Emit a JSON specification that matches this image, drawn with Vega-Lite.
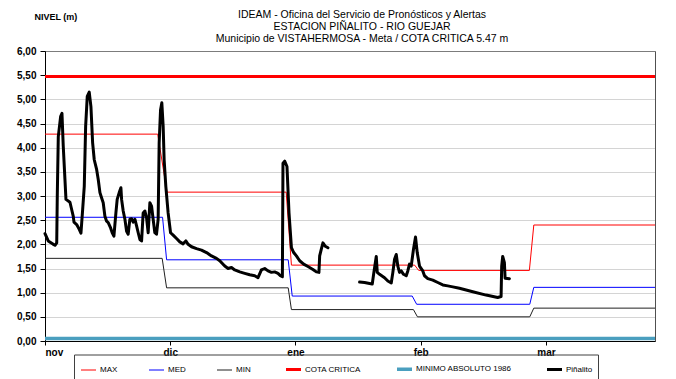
{
  "$schema": "https://vega.github.io/schema/vega-lite/v6.json",
  "width": 610,
  "height": 290,
  "autosize": {"type": "none"},
  "padding": {"left": 45, "top": 51, "right": 21, "bottom": 38},
  "background": "white",
  "title": {
    "text": ["IDEAM - Oficina del Servicio de Pronósticos y Alertas", "ESTACION PIÑALITO - RIO GUEJAR"],
    "subtitle": "Municipio de VISTAHERMOSA - Meta / COTA CRITICA 5.47 m",
    "anchor": "middle",
    "frame": "group",
    "dx": 12,
    "offset": -32,
    "font": "Liberation Sans",
    "fontSize": 10.5,
    "fontWeight": "normal",
    "lineHeight": 12.5,
    "color": "black",
    "subtitleFont": "Liberation Sans",
    "subtitleFontSize": 10.5,
    "subtitleColor": "black",
    "subtitlePadding": 1,
    "subtitleLineHeight": 12.5
  },
  "config": {
    "view": {"stroke": "#505050", "strokeWidth": 1},
    "axis": {"labelFont": "Liberation Sans", "titleFont": "Liberation Sans", "labelColor": "black", "titleColor": "black", "tickColor": "black", "domainColor": "black"},
    "legend": {"labelFont": "Liberation Sans", "labelFontSize": 8, "labelColor": "black"}
  },
  "datasets": {
    "niveles": [
      {"series": "MAX", "seg": 1, "day": 0, "nivel": 4.28},
      {"series": "MAX", "seg": 1, "day": 27.9, "nivel": 4.28},
      {"series": "MAX", "seg": 1, "day": 30.2, "nivel": 3.08},
      {"series": "MAX", "seg": 1, "day": 59.7, "nivel": 3.08},
      {"series": "MAX", "seg": 1, "day": 61.0, "nivel": 1.57},
      {"series": "MAX", "seg": 1, "day": 91.5, "nivel": 1.57},
      {"series": "MAX", "seg": 1, "day": 92.5, "nivel": 1.46},
      {"series": "MAX", "seg": 1, "day": 119.9, "nivel": 1.46},
      {"series": "MAX", "seg": 1, "day": 121, "nivel": 2.40},
      {"series": "MAX", "seg": 1, "day": 151, "nivel": 2.40},
      {"series": "MED", "seg": 1, "day": 0, "nivel": 2.56},
      {"series": "MED", "seg": 1, "day": 29.1, "nivel": 2.56},
      {"series": "MED", "seg": 1, "day": 30.1, "nivel": 1.68},
      {"series": "MED", "seg": 1, "day": 60.2, "nivel": 1.68},
      {"series": "MED", "seg": 1, "day": 61.2, "nivel": 0.93},
      {"series": "MED", "seg": 1, "day": 90.9, "nivel": 0.93},
      {"series": "MED", "seg": 1, "day": 92.0, "nivel": 0.76},
      {"series": "MED", "seg": 1, "day": 120, "nivel": 0.76},
      {"series": "MED", "seg": 1, "day": 121, "nivel": 1.11},
      {"series": "MED", "seg": 1, "day": 151, "nivel": 1.11},
      {"series": "MIN", "seg": 1, "day": 0, "nivel": 1.71},
      {"series": "MIN", "seg": 1, "day": 29.0, "nivel": 1.71},
      {"series": "MIN", "seg": 1, "day": 30.1, "nivel": 1.10},
      {"series": "MIN", "seg": 1, "day": 60.2, "nivel": 1.10},
      {"series": "MIN", "seg": 1, "day": 61.0, "nivel": 0.65},
      {"series": "MIN", "seg": 1, "day": 91.2, "nivel": 0.65},
      {"series": "MIN", "seg": 1, "day": 92.2, "nivel": 0.50},
      {"series": "MIN", "seg": 1, "day": 120, "nivel": 0.50},
      {"series": "MIN", "seg": 1, "day": 121, "nivel": 0.68},
      {"series": "MIN", "seg": 1, "day": 151, "nivel": 0.68},
      {"series": "COTA CRITICA", "seg": 1, "day": 0, "nivel": 5.47},
      {"series": "COTA CRITICA", "seg": 1, "day": 151, "nivel": 5.47},
      {"series": "MINIMO ABSOLUTO 1986", "seg": 1, "day": 0, "nivel": 0.05},
      {"series": "MINIMO ABSOLUTO 1986", "seg": 1, "day": 151, "nivel": 0.05},
      {"series": "Piñalito", "seg": 1, "day": 0.0, "nivel": 2.22},
      {"series": "Piñalito", "seg": 1, "day": 0.8, "nivel": 2.07},
      {"series": "Piñalito", "seg": 1, "day": 2.05, "nivel": 2.00},
      {"series": "Piñalito", "seg": 1, "day": 2.47, "nivel": 1.98},
      {"series": "Piñalito", "seg": 1, "day": 2.9, "nivel": 2.03},
      {"series": "Piñalito", "seg": 1, "day": 3.04, "nivel": 3.00},
      {"series": "Piñalito", "seg": 1, "day": 3.29, "nivel": 4.23},
      {"series": "Piñalito", "seg": 1, "day": 3.88, "nivel": 4.65},
      {"series": "Piñalito", "seg": 1, "day": 4.2, "nivel": 4.71},
      {"series": "Piñalito", "seg": 1, "day": 4.52, "nivel": 4.03},
      {"series": "Piñalito", "seg": 1, "day": 4.94, "nivel": 3.34},
      {"series": "Piñalito", "seg": 1, "day": 5.19, "nivel": 2.93},
      {"series": "Piñalito", "seg": 1, "day": 6.18, "nivel": 2.87},
      {"series": "Piñalito", "seg": 1, "day": 6.6, "nivel": 2.72},
      {"series": "Piñalito", "seg": 1, "day": 7.0, "nivel": 2.58},
      {"series": "Piñalito", "seg": 1, "day": 7.17, "nivel": 2.46},
      {"series": "Piñalito", "seg": 1, "day": 7.84, "nivel": 2.41},
      {"series": "Piñalito", "seg": 1, "day": 8.48, "nivel": 2.31},
      {"series": "Piñalito", "seg": 1, "day": 8.9, "nivel": 2.23},
      {"series": "Piñalito", "seg": 1, "day": 9.32, "nivel": 2.72},
      {"series": "Piñalito", "seg": 1, "day": 9.72, "nivel": 3.20},
      {"series": "Piñalito", "seg": 1, "day": 10.06, "nivel": 4.44},
      {"series": "Piñalito", "seg": 1, "day": 10.46, "nivel": 5.06},
      {"series": "Piñalito", "seg": 1, "day": 10.95, "nivel": 5.15},
      {"series": "Piñalito", "seg": 1, "day": 11.37, "nivel": 4.85},
      {"series": "Piñalito", "seg": 1, "day": 11.79, "nivel": 4.10},
      {"series": "Piñalito", "seg": 1, "day": 12.19, "nivel": 3.75},
      {"series": "Piñalito", "seg": 1, "day": 12.78, "nivel": 3.55},
      {"series": "Piñalito", "seg": 1, "day": 13.18, "nivel": 3.34},
      {"series": "Piñalito", "seg": 1, "day": 13.6, "nivel": 3.07},
      {"series": "Piñalito", "seg": 1, "day": 14.02, "nivel": 2.96},
      {"series": "Piñalito", "seg": 1, "day": 14.41, "nivel": 2.86},
      {"series": "Piñalito", "seg": 1, "day": 14.83, "nivel": 2.58},
      {"series": "Piñalito", "seg": 1, "day": 15.25, "nivel": 2.48},
      {"series": "Piñalito", "seg": 1, "day": 15.65, "nivel": 2.45},
      {"series": "Piñalito", "seg": 1, "day": 16.24, "nivel": 2.34},
      {"series": "Piñalito", "seg": 1, "day": 16.64, "nivel": 2.24},
      {"series": "Piñalito", "seg": 1, "day": 17.06, "nivel": 2.17},
      {"series": "Piñalito", "seg": 1, "day": 17.55, "nivel": 2.65},
      {"series": "Piñalito", "seg": 1, "day": 17.87, "nivel": 2.93},
      {"series": "Piñalito", "seg": 1, "day": 18.37, "nivel": 3.07},
      {"series": "Piñalito", "seg": 1, "day": 18.79, "nivel": 3.17},
      {"series": "Piñalito", "seg": 1, "day": 18.96, "nivel": 2.93},
      {"series": "Piñalito", "seg": 1, "day": 19.36, "nivel": 2.69},
      {"series": "Piñalito", "seg": 1, "day": 19.78, "nivel": 2.52},
      {"series": "Piñalito", "seg": 1, "day": 20.2, "nivel": 2.27},
      {"series": "Piñalito", "seg": 1, "day": 20.59, "nivel": 2.21},
      {"series": "Piñalito", "seg": 1, "day": 21.01, "nivel": 2.52},
      {"series": "Piñalito", "seg": 1, "day": 21.43, "nivel": 2.53},
      {"series": "Piñalito", "seg": 1, "day": 21.83, "nivel": 2.46},
      {"series": "Piñalito", "seg": 1, "day": 22.25, "nivel": 2.52},
      {"series": "Piñalito", "seg": 1, "day": 22.67, "nivel": 2.38},
      {"series": "Piñalito", "seg": 1, "day": 23.07, "nivel": 2.24},
      {"series": "Piñalito", "seg": 1, "day": 23.49, "nivel": 2.10},
      {"series": "Piñalito", "seg": 1, "day": 23.91, "nivel": 2.07},
      {"series": "Piñalito", "seg": 1, "day": 24.3, "nivel": 2.65},
      {"series": "Piñalito", "seg": 1, "day": 24.72, "nivel": 2.69},
      {"series": "Piñalito", "seg": 1, "day": 25.14, "nivel": 2.55},
      {"series": "Piñalito", "seg": 1, "day": 25.54, "nivel": 2.24},
      {"series": "Piñalito", "seg": 1, "day": 25.96, "nivel": 2.86},
      {"series": "Piñalito", "seg": 1, "day": 26.38, "nivel": 2.79},
      {"series": "Piñalito", "seg": 1, "day": 26.77, "nivel": 2.52},
      {"series": "Piñalito", "seg": 1, "day": 27.19, "nivel": 2.24},
      {"series": "Piñalito", "seg": 1, "day": 27.61, "nivel": 2.21},
      {"series": "Piñalito", "seg": 1, "day": 28.01, "nivel": 2.52},
      {"series": "Piñalito", "seg": 1, "day": 28.26, "nivel": 4.10},
      {"series": "Piñalito", "seg": 1, "day": 28.6, "nivel": 4.78},
      {"series": "Piñalito", "seg": 1, "day": 28.92, "nivel": 4.93},
      {"series": "Piñalito", "seg": 1, "day": 29.25, "nivel": 4.44},
      {"series": "Piñalito", "seg": 1, "day": 29.49, "nivel": 3.75},
      {"series": "Piñalito", "seg": 1, "day": 29.91, "nivel": 3.20},
      {"series": "Piñalito", "seg": 1, "day": 30.48, "nivel": 2.65},
      {"series": "Piñalito", "seg": 1, "day": 31.08, "nivel": 2.24},
      {"series": "Piñalito", "seg": 1, "day": 31.72, "nivel": 2.19},
      {"series": "Piñalito", "seg": 1, "day": 32.56, "nivel": 2.12},
      {"series": "Piñalito", "seg": 1, "day": 33.37, "nivel": 2.05},
      {"series": "Piñalito", "seg": 1, "day": 34.19, "nivel": 2.01},
      {"series": "Piñalito", "seg": 1, "day": 34.86, "nivel": 2.07},
      {"series": "Piñalito", "seg": 1, "day": 35.43, "nivel": 2.00},
      {"series": "Piñalito", "seg": 1, "day": 36.27, "nivel": 1.95},
      {"series": "Piñalito", "seg": 1, "day": 37.5, "nivel": 1.91},
      {"series": "Piñalito", "seg": 1, "day": 38.74, "nivel": 1.88},
      {"series": "Piñalito", "seg": 1, "day": 39.98, "nivel": 1.83},
      {"series": "Piñalito", "seg": 1, "day": 41.21, "nivel": 1.76},
      {"series": "Piñalito", "seg": 1, "day": 42.45, "nivel": 1.71},
      {"series": "Piñalito", "seg": 1, "day": 43.26, "nivel": 1.66},
      {"series": "Piñalito", "seg": 1, "day": 44.5, "nivel": 1.55},
      {"series": "Piñalito", "seg": 1, "day": 45.32, "nivel": 1.50},
      {"series": "Piñalito", "seg": 1, "day": 46.16, "nivel": 1.52},
      {"series": "Piñalito", "seg": 1, "day": 46.97, "nivel": 1.47},
      {"series": "Piñalito", "seg": 1, "day": 48.21, "nivel": 1.43},
      {"series": "Piñalito", "seg": 1, "day": 49.44, "nivel": 1.40},
      {"series": "Piñalito", "seg": 1, "day": 50.68, "nivel": 1.37},
      {"series": "Piñalito", "seg": 1, "day": 51.92, "nivel": 1.35},
      {"series": "Piñalito", "seg": 1, "day": 52.73, "nivel": 1.31},
      {"series": "Piñalito", "seg": 1, "day": 53.57, "nivel": 1.47},
      {"series": "Piñalito", "seg": 1, "day": 54.39, "nivel": 1.50},
      {"series": "Piñalito", "seg": 1, "day": 55.2, "nivel": 1.45},
      {"series": "Piñalito", "seg": 1, "day": 56.05, "nivel": 1.42},
      {"series": "Piñalito", "seg": 1, "day": 56.86, "nivel": 1.43},
      {"series": "Piñalito", "seg": 1, "day": 57.68, "nivel": 1.40},
      {"series": "Piñalito", "seg": 1, "day": 58.27, "nivel": 1.35},
      {"series": "Piñalito", "seg": 1, "day": 58.76, "nivel": 1.33},
      {"series": "Piñalito", "seg": 1, "day": 58.91, "nivel": 3.68},
      {"series": "Piñalito", "seg": 1, "day": 59.33, "nivel": 3.72},
      {"series": "Piñalito", "seg": 1, "day": 59.9, "nivel": 3.61},
      {"series": "Piñalito", "seg": 1, "day": 60.4, "nivel": 2.65},
      {"series": "Piñalito", "seg": 1, "day": 61.0, "nivel": 1.93},
      {"series": "Piñalito", "seg": 1, "day": 61.56, "nivel": 1.83},
      {"series": "Piñalito", "seg": 1, "day": 62.23, "nivel": 1.76},
      {"series": "Piñalito", "seg": 1, "day": 63.04, "nivel": 1.66},
      {"series": "Piñalito", "seg": 1, "day": 64.03, "nivel": 1.59},
      {"series": "Piñalito", "seg": 1, "day": 65.09, "nivel": 1.54},
      {"series": "Piñalito", "seg": 1, "day": 66.33, "nivel": 1.48},
      {"series": "Piñalito", "seg": 1, "day": 67.17, "nivel": 1.43},
      {"series": "Piñalito", "seg": 1, "day": 67.81, "nivel": 1.42},
      {"series": "Piñalito", "seg": 1, "day": 67.99, "nivel": 1.76},
      {"series": "Piñalito", "seg": 1, "day": 68.4, "nivel": 1.90},
      {"series": "Piñalito", "seg": 1, "day": 68.8, "nivel": 2.03},
      {"series": "Piñalito", "seg": 1, "day": 69.39, "nivel": 1.96},
      {"series": "Piñalito", "seg": 1, "day": 70.04, "nivel": 1.93},
      {"series": "Piñalito", "seg": 2, "day": 77.87, "nivel": 1.22},
      {"series": "Piñalito", "seg": 2, "day": 79.1, "nivel": 1.21},
      {"series": "Piñalito", "seg": 2, "day": 80.35, "nivel": 1.19},
      {"series": "Piñalito", "seg": 2, "day": 81.01, "nivel": 1.18},
      {"series": "Piñalito", "seg": 2, "day": 81.41, "nivel": 1.42},
      {"series": "Piñalito", "seg": 2, "day": 82.0, "nivel": 1.75},
      {"series": "Piñalito", "seg": 2, "day": 82.25, "nivel": 1.42},
      {"series": "Piñalito", "seg": 2, "day": 82.82, "nivel": 1.38},
      {"series": "Piñalito", "seg": 2, "day": 84.05, "nivel": 1.31},
      {"series": "Piñalito", "seg": 2, "day": 84.87, "nivel": 1.24},
      {"series": "Piñalito", "seg": 2, "day": 85.71, "nivel": 1.20},
      {"series": "Piñalito", "seg": 2, "day": 86.11, "nivel": 1.42},
      {"series": "Piñalito", "seg": 2, "day": 86.53, "nivel": 1.69},
      {"series": "Piñalito", "seg": 2, "day": 86.95, "nivel": 1.79},
      {"series": "Piñalito", "seg": 2, "day": 87.34, "nivel": 1.55},
      {"series": "Piñalito", "seg": 2, "day": 87.76, "nivel": 1.42},
      {"series": "Piñalito", "seg": 2, "day": 88.18, "nivel": 1.45},
      {"series": "Piñalito", "seg": 2, "day": 88.75, "nivel": 1.38},
      {"series": "Piñalito", "seg": 2, "day": 89.42, "nivel": 1.35},
      {"series": "Piñalito", "seg": 2, "day": 89.81, "nivel": 1.45},
      {"series": "Piñalito", "seg": 2, "day": 90.23, "nivel": 1.59},
      {"series": "Piñalito", "seg": 2, "day": 90.65, "nivel": 1.55},
      {"series": "Piñalito", "seg": 2, "day": 91.22, "nivel": 1.90},
      {"series": "Piñalito", "seg": 2, "day": 91.72, "nivel": 2.15},
      {"series": "Piñalito", "seg": 2, "day": 92.14, "nivel": 1.83},
      {"series": "Piñalito", "seg": 2, "day": 92.71, "nivel": 1.55},
      {"series": "Piñalito", "seg": 2, "day": 93.52, "nivel": 1.45},
      {"series": "Piñalito", "seg": 2, "day": 93.94, "nivel": 1.35},
      {"series": "Piñalito", "seg": 2, "day": 94.76, "nivel": 1.29},
      {"series": "Piñalito", "seg": 2, "day": 96.0, "nivel": 1.26},
      {"series": "Piñalito", "seg": 2, "day": 97.23, "nivel": 1.21},
      {"series": "Piñalito", "seg": 2, "day": 98.47, "nivel": 1.16},
      {"series": "Piñalito", "seg": 2, "day": 99.7, "nivel": 1.14},
      {"series": "Piñalito", "seg": 2, "day": 100.94, "nivel": 1.12},
      {"series": "Piñalito", "seg": 2, "day": 102.6, "nivel": 1.09},
      {"series": "Piñalito", "seg": 2, "day": 105.88, "nivel": 1.02},
      {"series": "Piñalito", "seg": 2, "day": 109.2, "nivel": 0.95},
      {"series": "Piñalito", "seg": 2, "day": 112.06, "nivel": 0.90},
      {"series": "Piñalito", "seg": 2, "day": 112.9, "nivel": 0.92},
      {"series": "Piñalito", "seg": 2, "day": 113.05, "nivel": 1.55},
      {"series": "Piñalito", "seg": 2, "day": 113.3, "nivel": 1.75},
      {"series": "Piñalito", "seg": 2, "day": 113.72, "nivel": 1.62},
      {"series": "Piñalito", "seg": 2, "day": 113.89, "nivel": 1.30},
      {"series": "Piñalito", "seg": 2, "day": 114.96, "nivel": 1.29}
    ]
  },
  "data": {"name": "niveles"},
  "encoding": {
    "x": {
      "field": "day", "type": "quantitative",
      "scale": {"domain": [0, 151], "nice": false, "zero": false},
      "axis": {
        "title": null, "grid": false,
        "values": [0, 31, 62, 93, 124],
        "labelExpr": "datum.value == 0 ? 'nov' : datum.value == 31 ? 'dic' : datum.value == 62 ? 'ene' : datum.value == 93 ? 'feb' : 'mar'",
        "labelFontSize": 10, "labelFontWeight": "bold", "tickSize": 4, "labelPadding": 2
      }
    },
    "y": {
      "field": "nivel", "type": "quantitative",
      "scale": {"domain": [0, 6], "nice": false},
      "axis": {
        "values": [0, 0.5, 1, 1.5, 2, 2.5, 3, 3.5, 4, 4.5, 5, 5.5, 6],
        "labelExpr": "replace(format(datum.value, '.2f'), '.', ',')",
        "labelFontSize": 10, "labelFontWeight": "bold", "tickSize": 5, "labelPadding": 4,
        "grid": true, "gridColor": "#a8a8a8", "gridDash": [1, 1], "gridWidth": 1,
        "title": "NIVEL (m)", "titleAngle": 0, "titleAlign": "left", "titleBaseline": "middle",
        "titleX": -11, "titleY": -35, "titleFontSize": 9, "titleFontWeight": "bold"
      }
    },
    "color": {
      "field": "series", "type": "nominal",
      "scale": {
        "domain": ["MAX", "MED", "MIN", "COTA CRITICA", "MINIMO ABSOLUTO 1986", "Piñalito"],
        "range": ["#FF0000", "#0000FF", "#202020", "#FF0000", "#4A9FBF", "#000000"]
      },
      "legend": {
        "title": null, "orient": "none", "legendX": 29, "legendY": 303.5,
        "direction": "horizontal", "columns": 6, "columnPadding": 29,
        "padding": 5, "strokeColor": "#404040", "symbolType": "stroke",
        "symbolSize": 225, "labelOffset": 2, "labelFontSize": 8
      }
    },
    "strokeWidth": {
      "field": "series", "type": "nominal",
      "scale": {
        "type": "ordinal",
        "domain": ["MAX", "MED", "MIN", "COTA CRITICA", "MINIMO ABSOLUTO 1986", "Piñalito"],
        "range": [1, 1, 1, 3, 3.5, 3]
      },
      "legend": {
        "title": null, "orient": "none", "legendX": 29, "legendY": 303.5,
        "direction": "horizontal", "columns": 6, "columnPadding": 29,
        "padding": 5, "strokeColor": "#404040", "symbolType": "stroke",
        "symbolSize": 225, "labelOffset": 2, "labelFontSize": 8
      }
    },
    "detail": {"field": "seg", "type": "nominal"}
  },
  "layer": [
    {
      "transform": [{"filter": "datum.series != 'Piñalito'"}],
      "mark": {"type": "line", "interpolate": "linear"}
    },
    {
      "transform": [{"filter": "datum.series == 'Piñalito'"}],
      "mark": {"type": "line", "interpolate": "linear", "strokeJoin": "round", "strokeCap": "round"}
    }
  ]
}
